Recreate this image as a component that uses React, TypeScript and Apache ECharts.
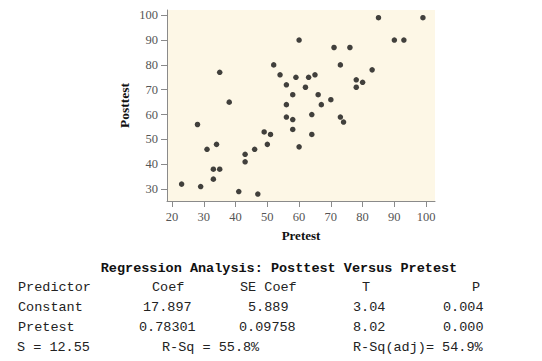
import React, { useEffect, useRef } from "react";
import * as echarts from "echarts";

const pretest = [35, 38, 85, 99, 60, 90, 93, 71, 76, 52, 73, 54, 59, 63, 65, 83, 56, 78, 80, 62, 78, 58, 66, 70, 56, 67, 28, 34, 31, 43, 46, 43, 33, 35, 33, 23, 29, 41, 47, 56, 58, 64, 73, 74, 58, 49, 51, 64, 50, 60];
const posttest = [77, 65, 99, 99, 90, 90, 90, 87, 87, 80, 80, 76, 75, 75, 76, 78, 72, 74, 73, 71, 71, 68, 68, 66, 64, 64, 56, 48, 46, 44, 46, 41, 38, 38, 34, 32, 31, 29, 28, 59, 58, 60, 59, 57, 54, 53, 52, 52, 48, 47];
const xTicks = [20, 30, 40, 50, 60, 70, 80, 90, 100];
const yTicks = [30, 40, 50, 60, 70, 80, 90, 100];

const tableTitle = "Regression Analysis: Posttest Versus Pretest";
const headerRow = ["Predictor", "Coef", "SE Coef", "T", "P"];
const constantRow = ["Constant", "17.897", "5.889", "3.04", "0.004"];
const pretestRow = ["Pretest", "0.78301", "0.09758", "8.02", "0.000"];
const summaryRow = ["S = 12.55", "R-Sq = 55.8%", "R-Sq(adj)= 54.9%"];

export default function App() {
  const ref = useRef<HTMLDivElement>(null);
  useEffect(() => {
    if (!ref.current) return;
    const chart = echarts.init(ref.current, null, { renderer: "svg" });
    const mono = "'Liberation Mono', 'DejaVu Sans Mono', monospace";
    const serif = "'Liberation Serif', 'DejaVu Serif', serif";
    const txt = (x: number, y: number, text: string) => ({
      type: "text",
      x,
      y,
      style: {
        text,
        fill: "#222",
        font: `13.5px ${mono}`,
        textAlign: "left",
        textVerticalAlign: "middle",
      },
    });
    const graphics: any[] = [
      { type: "text", x: 279, y: 268, style: { text: tableTitle, fill: "#111", font: `bold 13.5px ${mono}`, textAlign: "center", textVerticalAlign: "middle" } },
      txt(18, 287.5, headerRow[0]),
      txt(152, 287.5, headerRow[1]),
      txt(240, 287.5, headerRow[2]),
      txt(362, 287.5, headerRow[3]),
      txt(472, 287.5, headerRow[4]),
      txt(18, 307.5, constantRow[0]),
      txt(143, 307.5, constantRow[1]),
      txt(248, 307.5, constantRow[2]),
      txt(353, 307.5, constantRow[3]),
      txt(443, 307.5, constantRow[4]),
      txt(18, 327.5, pretestRow[0]),
      txt(139, 327.5, pretestRow[1]),
      txt(239, 327.5, pretestRow[2]),
      txt(353, 327.5, pretestRow[3]),
      txt(443, 327.5, pretestRow[4]),
      txt(17, 347.5, summaryRow[0]),
      txt(162, 347.5, summaryRow[1]),
      txt(353, 347.5, summaryRow[2]),
    ];
    chart.setOption({
      animation: false,
      grid: {
        left: 167,
        right: 107,
        top: 10,
        bottom: 160,
        show: true,
        backgroundColor: "#fdf7e6",
        borderWidth: 0,
      },
      xAxis: {
        type: "value",
        min: 18.4,
        max: 102.8,
        name: "Pretest",
        nameLocation: "middle",
        nameGap: 28,
        nameTextStyle: { fontFamily: serif, fontWeight: "bold", fontSize: 13, color: "#111" },
        axisLine: { show: true, lineStyle: { color: "#8a8a8a", width: 1 } },
        axisTick: { show: true, customValues: xTicks, length: 6, lineStyle: { color: "#8a8a8a" } },
        axisLabel: { customValues: xTicks, fontFamily: serif, fontSize: 12.5, color: "#555", margin: 9 },
        splitLine: { show: false },
      },
      yAxis: {
        type: "value",
        min: 25.2,
        max: 102.1,
        name: "Posttest",
        nameLocation: "middle",
        nameGap: 36,
        nameTextStyle: { fontFamily: serif, fontWeight: "bold", fontSize: 13.5, color: "#111" },
        axisLine: { show: true, lineStyle: { color: "#8a8a8a", width: 1 } },
        axisTick: { show: true, customValues: yTicks, length: 6, lineStyle: { color: "#8a8a8a" } },
        axisLabel: { customValues: yTicks, fontFamily: serif, fontSize: 12.5, color: "#555", margin: 9 },
        splitLine: { show: false },
      },
      series: [
        {
          type: "scatter",
          data: pretest.map((x, i) => [x, posttest[i]]),
          symbol: "circle",
          symbolSize: 5.5,
          itemStyle: { color: "#111" },
        },
      ],
      graphic: graphics,
    });
    return () => chart.dispose();
  }, []);
  return <div ref={ref} style={{ position: "fixed", left: 0, top: 0, width: 542, height: 361, background: "#fff" }} />;
}
